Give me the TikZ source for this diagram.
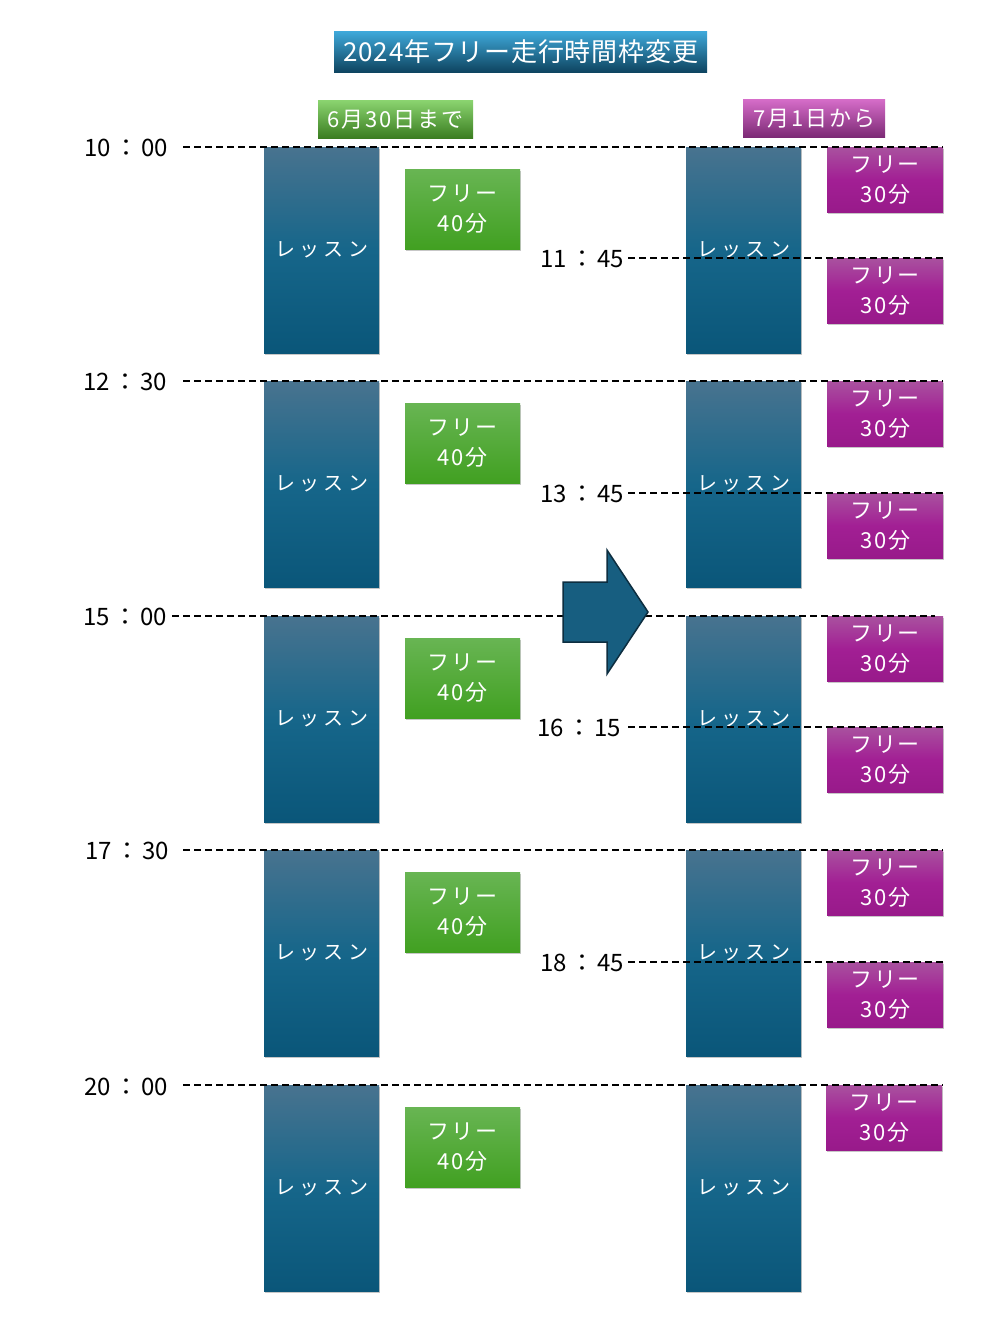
\documentclass[tikz,border=0pt]{standalone}
\usepackage{fontspec}
\setmainfont{Noto Sans CJK JP}
\newfontfamily\lsfont[LetterSpace=22]{Noto Sans CJK JP}
\newfontfamily\tifont[LetterSpace=3]{Noto Sans CJK JP}
\newfontfamily\hdfont[LetterSpace=8.5]{Noto Sans CJK JP}
\newfontfamily\frfont[LetterSpace=8]{Noto Sans CJK JP}
\newcommand\tmcolon{\hspace{3pt}：\hspace{3pt}}
\usetikzlibrary{shadows}
\definecolor{lesTop}{HTML}{48738F}
\definecolor{lesMid}{HTML}{16668A}
\definecolor{lesBot}{HTML}{0A5679}
\definecolor{grTop}{HTML}{68B553}
\definecolor{grBot}{HTML}{41A021}
\definecolor{ghTop}{HTML}{8BD470}
\definecolor{ghBot}{HTML}{3A7D20}
\definecolor{phTop}{HTML}{D66DC9}
\definecolor{phBot}{HTML}{7C2A75}
\definecolor{puTop}{HTML}{A9519F}
\definecolor{puMid}{HTML}{A21F94}
\definecolor{puBot}{HTML}{981A8A}
\definecolor{tiTop}{HTML}{3FA9DA}
\definecolor{tiBot}{HTML}{0E4460}
\definecolor{arFill}{HTML}{175E80}
\definecolor{arLine}{HTML}{0D2E40}
\tikzset{
  boxshadow/.style={drop shadow={shadow xshift=1.2pt, shadow yshift=-1.8pt, opacity=0.22, fill=black}},
  lesson/.style={anchor=north west, minimum width=115pt, minimum height=206pt, inner sep=0pt,
     top color=lesTop, bottom color=lesBot, middle color=lesMid, text=white, boxshadow,
     font=\lsfont\fontsize{20}{24}\selectfont},
  greenfree/.style={anchor=north west, minimum width=115pt, minimum height=80pt, inner sep=0pt,
     top color=grTop, bottom color=grBot, text=white, boxshadow, align=center,
     font=\frfont\fontsize{22}{30}\selectfont},
  purplefree/.style={anchor=north west, minimum width=116pt, minimum height=65pt, inner sep=0pt,
     top color=puTop, bottom color=puBot, middle color=puMid, text=white, boxshadow, align=center,
     font=\frfont\fontsize{22}{30}\selectfont},
  header/.style={anchor=north west, minimum height=38pt, inner sep=0pt, text=white,
     font=\hdfont\fontsize{22}{26}\selectfont},
  timelabel/.style={anchor=east, inner sep=0pt, text=black, font=\fontsize{24}{26}\selectfont},
  dashline/.style={draw=black, line width=1.6pt, dash pattern=on 7pt off 4pt},
}
\begin{document}
\begin{tikzpicture}[x=1pt, y=-1pt]
\fill[white] (0,0) rectangle (1008,1344);
\useasboundingbox (0,0) rectangle (1008,1344);

% title and headers
\node[anchor=north west, minimum width=373pt, minimum height=41pt, inner sep=0pt,
   top color=tiTop, bottom color=tiBot, text=white, font=\tifont\fontsize{26}{30}\selectfont]
   (title) at (334,31) {2024年フリー走行時間枠変更};
\node[header, minimum width=155pt, top color=ghTop, bottom color=ghBot] (hOld) at (318,100) {6月30日まで};
\node[header, minimum width=142pt, top color=phTop, bottom color=phBot] (hNew) at (743,99) {7月1日から};

% lesson boxes
\foreach \y [count=\i] in {147,381,616,850,1085}{
  \node[lesson] (LL\i) at (264,\y) {レッスン};
  \node[lesson] (RL\i) at (686,\y) {レッスン};
  \node[greenfree] (G\i) at (405,\y+22) {フリー\\40分};
}
% purple free boxes
\foreach \y [count=\i] in {147,258,381,493,616,727,850,962}{
  \node[purplefree] (P\i) at (827,\y) {フリー\\30分};
}
\node[purplefree] (P9) at (826,1085) {フリー\\30分};

% time labels
\node[timelabel] (t1) at (168,148) {10\tmcolon00};
\node[timelabel] (t2) at (167,382) {12\tmcolon30};
\node[timelabel] (t3) at (167,617) {15\tmcolon00};
\node[timelabel] (t4) at (169,851) {17\tmcolon30};
\node[timelabel] (t5) at (168,1087) {20\tmcolon00};
\node[timelabel] (m1) at (624,259) {11\tmcolon45};
\node[timelabel] (m2) at (624,494) {13\tmcolon45};
\node[timelabel] (m3) at (621,728) {16\tmcolon15};
\node[timelabel] (m4) at (624,963) {18\tmcolon45};

% dashed lines
\draw[dashline] (183,147) -- (943,147);
\draw[dashline] (183,381) -- (943,381);
\draw[dashline] (172,616) -- (935,616);
\draw[dashline] (183,850) -- (943,850);
\draw[dashline] (183,1085) -- (943,1085);
\draw[dashline] (628,258) -- (943,258);
\draw[dashline] (628,493) -- (943,493);
\draw[dashline] (628,727) -- (943,727);
\draw[dashline] (628,962) -- (943,962);

% big arrow
\draw[fill=arFill, draw=arLine, line width=1.5pt, line join=miter]
  (563,582) -- (607,582) -- (607,550) -- (648,612) -- (607,674) -- (607,642) -- (563,642) -- cycle;
\end{tikzpicture}
\end{document}
